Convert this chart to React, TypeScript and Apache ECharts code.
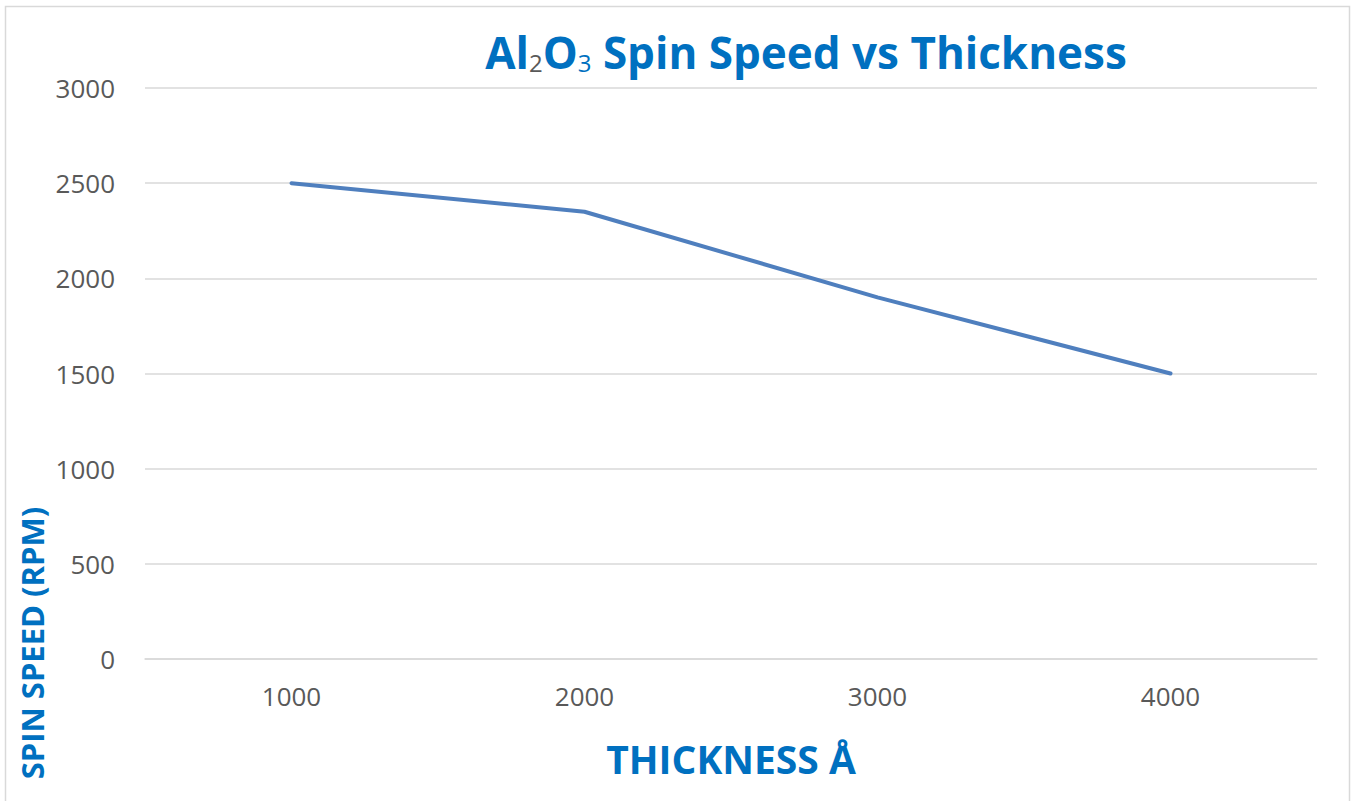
import React, { useEffect, useRef } from "react";
import * as echarts from "echarts";

const categories = ["1000", "2000", "3000", "4000"];
const spinSpeed = [2500, 2350, 1900, 1500];
const yMin = 0;
const yMax = 3000;
const yInterval = 500;

const FONT = "'Open Sans', 'Noto Sans', sans-serif";
const BLUE = "#0070C0";

export default function App() {
  const ref = useRef<HTMLDivElement>(null);
  useEffect(() => {
    document.body.style.margin = "0";
    const chart = echarts.init(ref.current!, null, { renderer: "svg" });
    chart.setOption({
      animation: false,
      backgroundColor: "#ffffff",
      grid: { left: 145, right: 34, top: 88, bottom: 142 },
      xAxis: {
        type: "category",
        data: categories,
        boundaryGap: true,
        axisLine: { show: true, lineStyle: { color: "#d9d9d9", width: 1.5 } },
        axisTick: { show: false },
        axisLabel: { color: "#595959", fontSize: 26, fontFamily: FONT, margin: 24 },
      },
      yAxis: {
        type: "value",
        min: yMin,
        max: yMax,
        interval: yInterval,
        axisLine: { show: false },
        axisTick: { show: false },
        splitLine: { lineStyle: { color: "#d9d9d9", width: 1.5 } },
        axisLabel: {
          color: "#595959",
          fontSize: 26,
          fontFamily: FONT,
          margin: 30,
          formatter: (v: number) => String(v),
        },
      },
      series: [
        {
          type: "line",
          data: spinSpeed,
          showSymbol: false,
          symbol: "none",
          lineStyle: { color: "#4F7FBE", width: 4, cap: "round", join: "round" },
        },
      ],
      graphic: [
        {
          type: "rect",
          shape: { x: 5.5, y: 6.5, width: 1344, height: 820 },
          style: { fill: "none", stroke: "#d9d9d9", lineWidth: 1.5 },
          silent: true,
        },
        {
          type: "text",
          x: 806,
          y: 52,
          style: {
            text: "{b|Al}{s2|2}{b|O}{s3|3}{b| Spin Speed vs Thickness}",
            align: "center",
            verticalAlign: "middle",
            rich: {
              b: { fontSize: 44, fontWeight: "bold", fontFamily: FONT, fill: BLUE, color: BLUE },
              s2: { fontSize: 24, fontFamily: FONT, fill: "#595959", color: "#595959", verticalAlign: "bottom", padding: [20, 0, 0, 0] },
              s3: { fontSize: 24, fontFamily: FONT, fill: BLUE, color: BLUE, verticalAlign: "bottom", padding: [20, 0, 0, 0] },
            },
          },
        },
        {
          type: "text",
          x: 731,
          y: 758,
          style: {
            text: "THICKNESS Å",
            align: "center",
            verticalAlign: "middle",
            fontSize: 39,
            fontWeight: "bold",
            fontFamily: FONT,
            fill: BLUE,
          },
        },
        {
          type: "text",
          x: 32,
          y: 643,
          rotation: Math.PI / 2,
          style: {
            text: "SPIN SPEED (RPM)",
            align: "center",
            verticalAlign: "middle",
            fontSize: 31,
            fontWeight: "bold",
            fontFamily: FONT,
            fill: BLUE,
          },
        },
      ],
    });
    return () => chart.dispose();
  }, []);
  return <div ref={ref} style={{ width: 1351, height: 801 }} />;
}
